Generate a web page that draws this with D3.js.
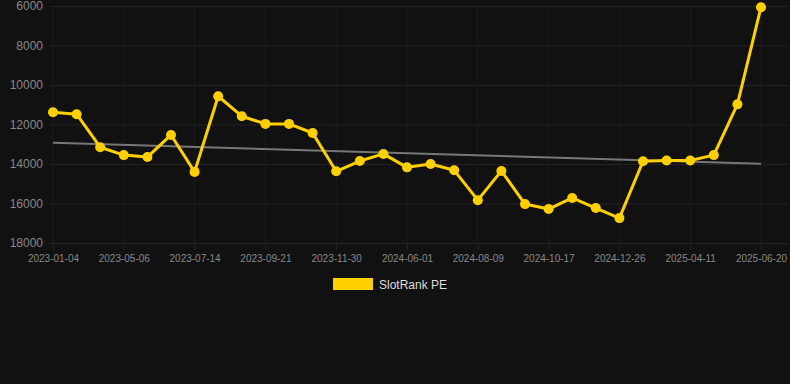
<!DOCTYPE html>
<html>
<head>
<meta charset="utf-8">
<script src="https://cdn.jsdelivr.net/npm/d3@7"></script>
<style>
    body { margin: 0; background: #111111; }
    svg { display: block; font-family: "Liberation Sans", Arial, sans-serif; }
</style>
</head>
<body>
<svg id="chart"></svg>
<script>
// dates of each observation (only every 3rd one is labelled on the axis)
const dates = [
    '2023-01-04', '2023-02-15', '2023-03-28', '2023-05-06', '2023-05-29', '2023-06-21',
    '2023-07-14', '2023-08-06', '2023-08-29', '2023-09-21', '2023-10-14', '2023-11-07',
    '2023-11-30', '2024-01-30', '2024-03-31', '2024-06-01', '2024-06-24', '2024-07-17',
    '2024-08-09', '2024-09-01', '2024-09-24', '2024-10-17', '2024-11-09', '2024-12-03',
    '2024-12-26', '2025-01-31', '2025-03-07', '2025-04-11', '2025-05-04', '2025-05-27',
    '2025-06-20'
];
// SlotRank PE rank values
const ranks = [
    11380, 11480, 13150, 13550, 13650, 12530, 14400, 10570, 11580, 11970, 11970, 12430,
    14370, 13850, 13490, 14170, 14000, 14320, 15830, 14350, 16030, 16280, 15720, 16230,
    16740, 13860, 13820, 13820, 13550, 10980, 6060
];
// trend line end values (first and last date)
const trend = [12920, 13985];
const yTicks = [6000, 8000, 10000, 12000, 14000, 16000, 18000];
const seriesName = 'SlotRank PE';

const width = 790, height = 384;
const margin = {top: 6, right: 29, bottom: 141, left: 53};
const gold = '#ffd000';

const svg = d3.select('#chart')
    .attr('width', width)
    .attr('height', height);

svg.append('rect')
    .attr('width', width)
    .attr('height', height)
    .attr('fill', '#111111');

const x = d3.scalePoint()
    .domain(dates)
    .range([margin.left, width - margin.right]);

const y = d3.scaleLinear()
    .domain([6000, 18000])
    .range([margin.top, height - margin.bottom]);

// horizontal grid + y labels
const yAxis = svg.append('g')
    .attr('transform', `translate(${margin.left - 3},0)`)
    .call(d3.axisLeft(y).tickValues(yTicks).tickFormat(d3.format('d')).tickPadding(7)
        .tickSizeInner(-(width - margin.left - margin.right + 30)).tickSizeOuter(0));
yAxis.select('.domain').remove();
yAxis.selectAll('line').attr('stroke', '#232323');
yAxis.selectAll('text')
    .attr('fill', '#888')
    .style('font-size', '12px');

// vertical grid + x labels
const labelled = dates.filter((d, i) => i % 3 === 0);
const xAxis = svg.append('g')
    .attr('transform', `translate(0,${height - margin.bottom})`)
    .call(d3.axisBottom(x).tickValues(labelled).tickSizeInner(7).tickSizeOuter(0).tickPadding(5));
xAxis.select('.domain').remove();
xAxis.selectAll('line').attr('stroke', '#262626');
xAxis.selectAll('text')
    .attr('fill', '#888')
    .style('font-size', '10px');

svg.append('g')
    .selectAll('line')
    .data(labelled)
    .join('line')
    .attr('x1', d => x(d)).attr('x2', d => x(d))
    .attr('y1', margin.top).attr('y2', height - margin.bottom)
    .attr('stroke', '#1c1c1c');

// trend line
svg.append('line')
    .attr('x1', x(dates[0]))
    .attr('x2', x(dates[dates.length - 1]))
    .attr('y1', y(trend[0]))
    .attr('y2', y(trend[1]))
    .attr('stroke', '#777')
    .attr('stroke-width', 2);

const data = dates.map((d, i) => ({date: d, value: ranks[i]}));

svg.append('path')
    .datum(data)
    .attr('fill', 'none')
    .attr('stroke', gold)
    .attr('stroke-width', 3)
    .attr('stroke-linejoin', 'round')
    .attr('d', d3.line().x(d => x(d.date)).y(d => y(d.value)));

svg.append('g')
    .selectAll('circle')
    .data(data)
    .join('circle')
    .attr('cx', d => x(d.date))
    .attr('cy', d => y(d.value))
    .attr('r', 5)
    .attr('fill', gold);

// legend
const legend = svg.append('g').attr('transform', 'translate(333,278)');
legend.append('rect')
    .attr('width', 40)
    .attr('height', 12)
    .attr('fill', gold);
legend.append('text')
    .attr('x', 46)
    .attr('y', 10.5)
    .attr('fill', '#dddddd')
    .style('font-size', '12px')
    .text(seriesName);
</script>
</body>
</html>
